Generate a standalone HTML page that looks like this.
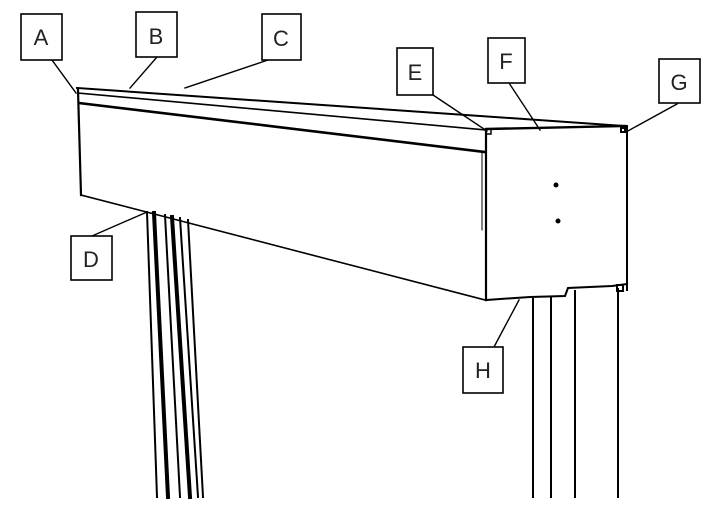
<!DOCTYPE html>
<html><head><style>
html,body{margin:0;padding:0;background:#fff;}
svg{display:block;}
text{font-family:"Liberation Sans",sans-serif;font-size:22px;fill:#222;}
</style></head><body>
<svg width="720" height="513" viewBox="0 0 720 513" xmlns="http://www.w3.org/2000/svg">
<g stroke="#000" fill="none" stroke-linecap="square">
<!-- beam top -->
<line x1="77" y1="88" x2="625" y2="126" stroke-width="2"/>
<line x1="78" y1="93" x2="486" y2="130" stroke-width="1.6"/>
<line x1="79" y1="103" x2="485" y2="152" stroke-width="2.6"/>
<!-- left edge -->
<line x1="78" y1="90" x2="81" y2="195" stroke-width="2.2"/>
<!-- bottom -->
<line x1="81" y1="195" x2="485" y2="300" stroke-width="1.6"/>
<!-- end face -->
<line x1="486" y1="130" x2="486" y2="300" stroke-width="2.2"/>
<line x1="482" y1="152" x2="482" y2="230" stroke-width="1"/>
<line x1="486" y1="129" x2="625" y2="126" stroke-width="2.4"/>
<line x1="627" y1="126" x2="627" y2="290" stroke-width="2"/>
<path d="M486 300 L530 297 L565 296 L568 288 L612 286 L627 284" stroke-width="2"/>
<rect x="486" y="129" width="5" height="5" stroke-width="1.5"/>
<rect x="621" y="128" width="4" height="4" stroke-width="2"/>
<rect x="617" y="285" width="6" height="6" stroke-width="2"/>
<circle cx="556" cy="185" r="2" fill="#000"/>
<circle cx="558" cy="221" r="2" fill="#000"/>
<!-- right post -->
<line x1="533" y1="299" x2="533" y2="497" stroke-width="2"/>
<line x1="551" y1="298" x2="551" y2="497" stroke-width="2"/>
<line x1="575" y1="291" x2="575" y2="497" stroke-width="2"/>
<line x1="618" y1="289" x2="618" y2="497" stroke-width="2"/>
<!-- left post -->
<line x1="147" y1="212" x2="157" y2="497" stroke-width="2"/>
<line x1="154" y1="213" x2="168" y2="497" stroke-width="4"/>
<line x1="165" y1="215" x2="180" y2="497" stroke-width="2"/>
<line x1="172" y1="217" x2="190" y2="497" stroke-width="4"/>
<line x1="180" y1="218" x2="198" y2="497" stroke-width="2"/>
<line x1="188" y1="220" x2="203" y2="497" stroke-width="2"/>
<!-- leaders -->
<g stroke-width="1.4">
<line x1="52" y1="60" x2="76" y2="93"/>
<line x1="157" y1="57" x2="130" y2="88"/>
<line x1="268" y1="60" x2="185" y2="88"/>
<line x1="92" y1="236" x2="147" y2="212"/>
<line x1="433" y1="95" x2="487" y2="131"/>
<line x1="509" y1="83" x2="540" y2="130"/>
<line x1="677" y1="104" x2="626" y2="132"/>
<line x1="494" y1="347" x2="519" y2="300"/>
</g>
<!-- boxes -->
<g stroke-width="1.6" fill="#fff">
<rect x="21" y="14" width="41" height="46"/>
<rect x="136" y="12" width="41" height="45"/>
<rect x="262" y="14" width="39" height="46"/>
<rect x="71" y="236" width="41" height="44"/>
<rect x="397" y="48" width="36" height="47"/>
<rect x="488" y="38" width="37" height="45"/>
<rect x="659" y="59" width="41" height="44"/>
<rect x="463" y="347" width="40" height="46"/>
</g>
</g>
<text x="41" y="45" text-anchor="middle">A</text>
<text x="156" y="44" text-anchor="middle">B</text>
<text x="281" y="46" text-anchor="middle">C</text>
<text x="91" y="267" text-anchor="middle">D</text>
<text x="415" y="80" text-anchor="middle">E</text>
<text x="506" y="69" text-anchor="middle">F</text>
<text x="679" y="90" text-anchor="middle">G</text>
<text x="483" y="378" text-anchor="middle">H</text>
</svg>
</body></html>
